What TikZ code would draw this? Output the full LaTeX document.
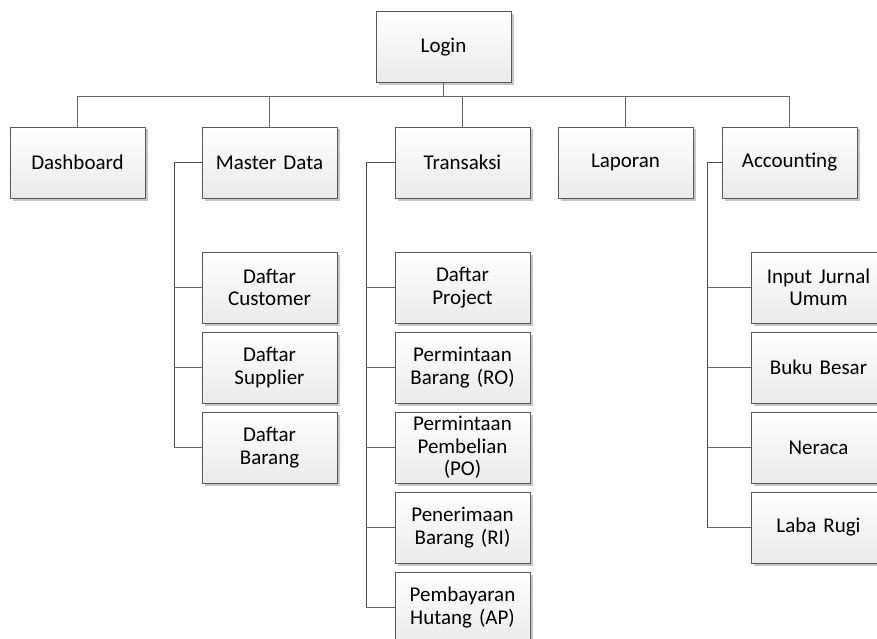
\documentclass[tikz,border=0pt]{standalone}
\usepackage{fontspec}
\setmainfont{Carlito}
\usetikzlibrary{shadows}
\begin{document}
\begin{tikzpicture}[x=1pt,y=-1pt,
  box/.style={draw=black!65, line width=0.9pt, top color=white, bottom color=black!8,
    minimum width=135pt, minimum height=71pt, text width=131pt, align=center,
    inner sep=0pt, font=\fontsize{21}{22.5}\selectfont,
    drop shadow={shadow xshift=2.5pt, shadow yshift=-2.5pt, fill=black!22, opacity=1}},
  bus/.style={draw=black!60, line width=0.9pt},
  sub/.style={draw=black!70, line width=1pt}]
\clip (0,0) rectangle (877,639);
\fill[white] (0,0) rectangle (877,639);
\node[box] (login) at (443.5,47) {Login};
\node[box] (dash) at (77.5,162.5) {Dashboard};
\node[box] (md) at (269.5,162.5) {Master Data};
\node[box] (tr) at (462.5,162.5) {Transaksi};
\node[box] (lap) at (625.5,162.5) {Laporan};
\node[box] (acc) at (789.5,162.5) {Accounting};
\coordinate (busy) at (0,96);
\draw[bus] (login.south) -- (login.south |- busy);
\draw[bus] (dash.north) -- (dash.north |- busy) -- (acc.north |- busy) -- (acc.north);
\draw[bus] (md.north) -- (md.north |- busy);
\draw[bus] (tr.north) -- (tr.north |- busy);
\draw[bus] (lap.north) -- (lap.north |- busy);
% Master Data children
\node[box] (dc) at (269.5,287.5) {Daftar\\Customer};
\node[box] (ds) at (269.5,367.5) {Daftar\\Supplier};
\node[box] (db) at (269.5,447.5) {Daftar\\Barang};
\coordinate (mdx) at (174,0);
\draw[sub] (md.west) -- (md.west -| mdx) -- (db.west -| mdx);
\draw[bus] (dc.west -| mdx) -- (dc.west);
\draw[bus] (ds.west -| mdx) -- (ds.west);
\draw[bus] (db.west -| mdx) -- (db.west);
% Transaksi children
\node[box] (dp) at (462.5,287.5) {Daftar\\Project};
\node[box] (ro) at (462.5,367.5) {Permintaan\\Barang (RO)};
\node[box] (po) at (462.5,447.5) {Permintaan\\Pembelian\\(PO)};
\node[box] (ri) at (462.5,527.5) {Penerimaan\\Barang (RI)};
\node[box] (ap) at (462.5,607.5) {Pembayaran\\Hutang (AP)};
\coordinate (trx) at (366,0);
\draw[sub] (tr.west) -- (tr.west -| trx) -- (ap.west -| trx);
\draw[bus] (dp.west -| trx) -- (dp.west);
\draw[bus] (ro.west -| trx) -- (ro.west);
\draw[bus] (po.west -| trx) -- (po.west);
\draw[bus] (ri.west -| trx) -- (ri.west);
\draw[bus] (ap.west -| trx) -- (ap.west);
% Accounting children
\node[box] (ij) at (818.5,287.5) {Input Jurnal\\Umum};
\node[box] (bb) at (818.5,367.5) {Buku Besar};
\node[box] (ne) at (818.5,447.5) {Neraca};
\node[box] (lr) at (818.5,527.5) {Laba Rugi};
\coordinate (acx) at (707,0);
\draw[sub] (acc.west) -- (acc.west -| acx) -- (lr.west -| acx);
\draw[bus] (ij.west -| acx) -- (ij.west);
\draw[bus] (bb.west -| acx) -- (bb.west);
\draw[bus] (ne.west -| acx) -- (ne.west);
\draw[bus] (lr.west -| acx) -- (lr.west);
\end{tikzpicture}
\end{document}
